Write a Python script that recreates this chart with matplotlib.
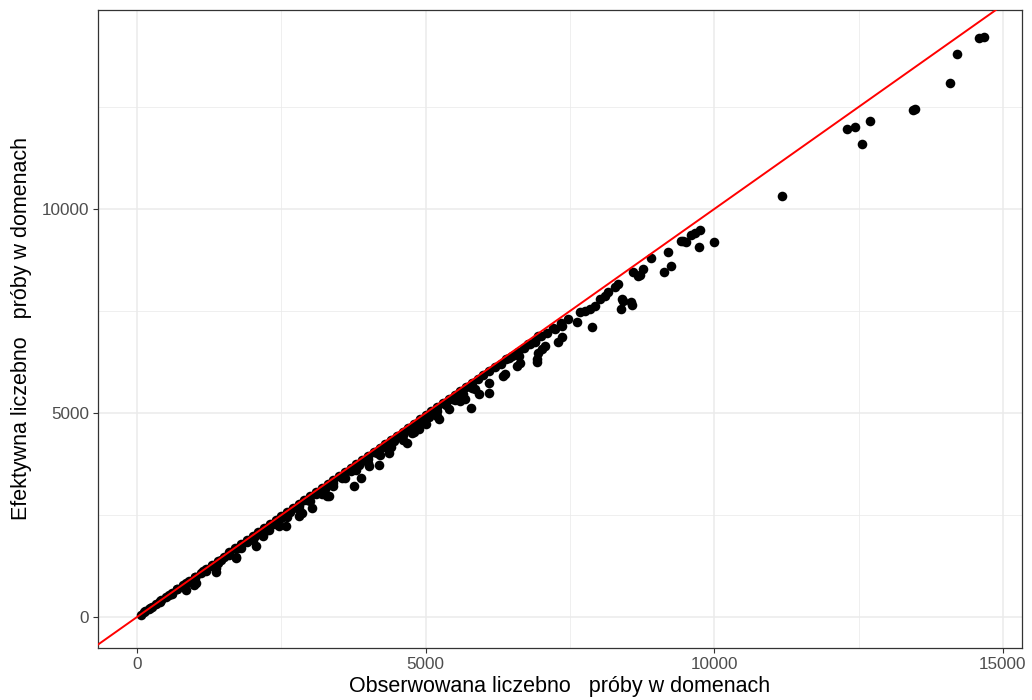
import matplotlib
matplotlib.use("Agg")
import matplotlib.pyplot as plt

# gęsty pas punktów tuż przy prostej y = x
pas_obs = [60, 140, 230, 320, 410, 500, 600, 700, 800, 900, 1000, 1100, 1200, 1300, 1400,
           1500, 1600, 1700, 1800, 1900, 2000, 2100, 2200, 2300, 2400, 2500, 2600, 2700,
           2800, 2900, 3000, 3100, 3200, 3300, 3400, 3500, 3600, 3700, 3800, 3900, 4000,
           4100, 4200, 4300, 4400, 4500, 4600, 4700, 4800, 4900, 5000, 5100, 5200, 5300,
           5400, 5500, 5600, 5700, 5800, 5900, 6000, 6100, 6200, 6300, 6400, 6500, 6600,
           6700, 6800, 6900, 7000, 7100]
pas_ef = [59, 138, 227, 316, 405, 494, 593, 692, 790, 889, 988, 1087, 1186, 1284, 1383,
          1482, 1581, 1680, 1778, 1877, 1976, 2075, 2174, 2272, 2371, 2470, 2569, 2668,
          2766, 2865, 2964, 3063, 3162, 3260, 3359, 3458, 3557, 3656, 3754, 3853, 3952,
          4051, 4150, 4248, 4347, 4446, 4545, 4644, 4742, 4841, 4940, 5039, 5138, 5236,
          5335, 5434, 5533, 5632, 5730, 5829, 5928, 6030, 6125, 6210, 6320, 6405, 6490,
          6600, 6690, 6770, 6880, 6970]

# środek pasa
sr_obs = [120, 260, 400, 550, 700, 850, 1000, 1150, 1300, 1450, 1600, 1750, 1900, 2050,
          2200, 2350, 2500, 2650, 2800, 2950, 3100, 3250, 3400, 3550, 3700, 3850, 4000,
          4150, 4300, 4450, 4600, 4750, 4900, 5050, 5200, 5350, 5500, 5650, 5800]
sr_ef = [113, 250, 386, 532, 678, 824, 968, 1115, 1258, 1405, 1549, 1697, 1842, 1987,
         2132, 2279, 2422, 2568, 2714, 2858, 3005, 3148, 3296, 3440, 3586, 3731, 3876,
         4022, 4168, 4311, 4457, 4603, 4748, 4892, 5038, 5184, 5328, 5474, 5620]

# dolna krawędź pasa
dol_obs = [200, 400, 600, 800, 1000, 1200, 1400, 1600, 1800, 2000, 2200, 2400, 2600,
           2800, 3000, 3200, 3400, 3600, 3800, 4000, 4200, 4400, 4600, 4800, 5000, 5200,
           5400, 5600]
dol_ef = [189, 378, 567, 756, 945, 1134, 1323, 1512, 1701, 1890, 2079, 2268, 2457,
          2646, 2835, 3024, 3213, 3402, 3591, 3780, 3969, 4158, 4347, 4536, 4725, 4914,
          5103, 5292]

# pojedyncze punkty odstające
odst_obs = [14581, 14669, 14208, 14082, 13450, 13470, 12296, 12441, 12691, 12551,
            11168, 9993, 9739, 9746, 9660, 9601, 9428, 9515, 9457, 9198, 9256, 9124,
            8900, 8767, 8710, 8680, 8594, 8404, 8554, 8392, 8335, 8278, 8162, 8105,
            8019, 7932, 7846, 7760, 7673, 7886, 7615, 7471, 7356, 7241, 7356, 7298,
            7069, 7010, 6896, 6953, 6924, 6924, 6637, 6578, 6348, 6377, 6089, 5916,
            5859, 5790, 5687, 5455, 5225, 5110, 4880, 4765, 3757, 3873, 4189, 4678,
            3325, 3037, 2807, 2059, 1714, 1368, 993, 850, 2289, 2174, 3296, 2577,
            2462, 1714, 1368, 1023, 4362, 4016, 3556, 2864, 7200, 7350, 6780, 6953,
            6608, 6435, 6089, 8580, 8417]
odst_ef = [14179, 14221, 13808, 13095, 12420, 12460, 11952, 12018, 12151, 11595,
           10317, 9186, 9078, 9489, 9408, 9366, 9211, 9186, 9226, 8955, 8597, 8449,
           8793, 8530, 8383, 8365, 8449, 7792, 7711, 7547, 8161, 8080, 7957, 7874,
           7793, 7628, 7547, 7505, 7466, 7112, 7220, 7301, 7136, 7055, 6851, 6728,
           6645, 6563, 6728, 6482, 6318, 6251, 6237, 6153, 5907, 5949, 5499, 5457,
           5580, 5113, 5334, 5334, 4843, 4966, 4597, 4516, 3220, 3410, 3736, 4270,
           2957, 2672, 2466, 1728, 1443, 1114, 787, 664, 2139, 1974, 2974, 2237,
           2220, 1482, 1197, 828, 4024, 3695, 3410, 2549, 7080, 7210, 6686, 6891,
           6399, 6359, 5745, 7638, 7753]

obs = pas_obs + sr_obs + dol_obs + odst_obs
ef = pas_ef + sr_ef + dol_ef + odst_ef

fig = plt.figure(figsize=(10.32, 7.0), dpi=100)
ax = fig.add_axes([0.095, 0.0743, 0.895, 0.9114])

ax.scatter(obs, ef, s=48, color="black", linewidths=0, zorder=3)
ax.axline((0, 0), slope=1, color="red", linewidth=1.4, zorder=4)

ax.set_xlim(-676, 15325)
ax.set_ylim(-760, 14877)

ax.set_xticks([0, 5000, 10000, 15000])
ax.set_yticks([0, 5000, 10000])
ax.set_xticks([2500, 7500, 12500], minor=True)
ax.set_yticks([2500, 7500, 12500], minor=True)
ax.grid(which="major", color="#EBEBEB", linewidth=1.1, zorder=0)
ax.grid(which="minor", color="#EBEBEB", linewidth=0.55, zorder=0)
ax.set_axisbelow(True)

ax.tick_params(which="major", length=3.5, width=0.8, color="#333333",
               labelsize=12.3, labelcolor="#4D4D4D", pad=3)
ax.tick_params(which="minor", length=0)
for s in ax.spines.values():
    s.set_color("#333333")
    s.set_linewidth(0.9)

for lab in ax.get_xticklabels() + ax.get_yticklabels():
    lab.set_family("Liberation Sans")

ax.set_xlabel("Obserwowana liczebno   próby w domenach", fontsize=15.5,
              family="Liberation Sans", labelpad=3)
ax.set_ylabel("Efektywna liczebno   próby w domenach", fontsize=15.5,
              family="Liberation Sans", labelpad=7)

fig.savefig("out.png", dpi=100)
